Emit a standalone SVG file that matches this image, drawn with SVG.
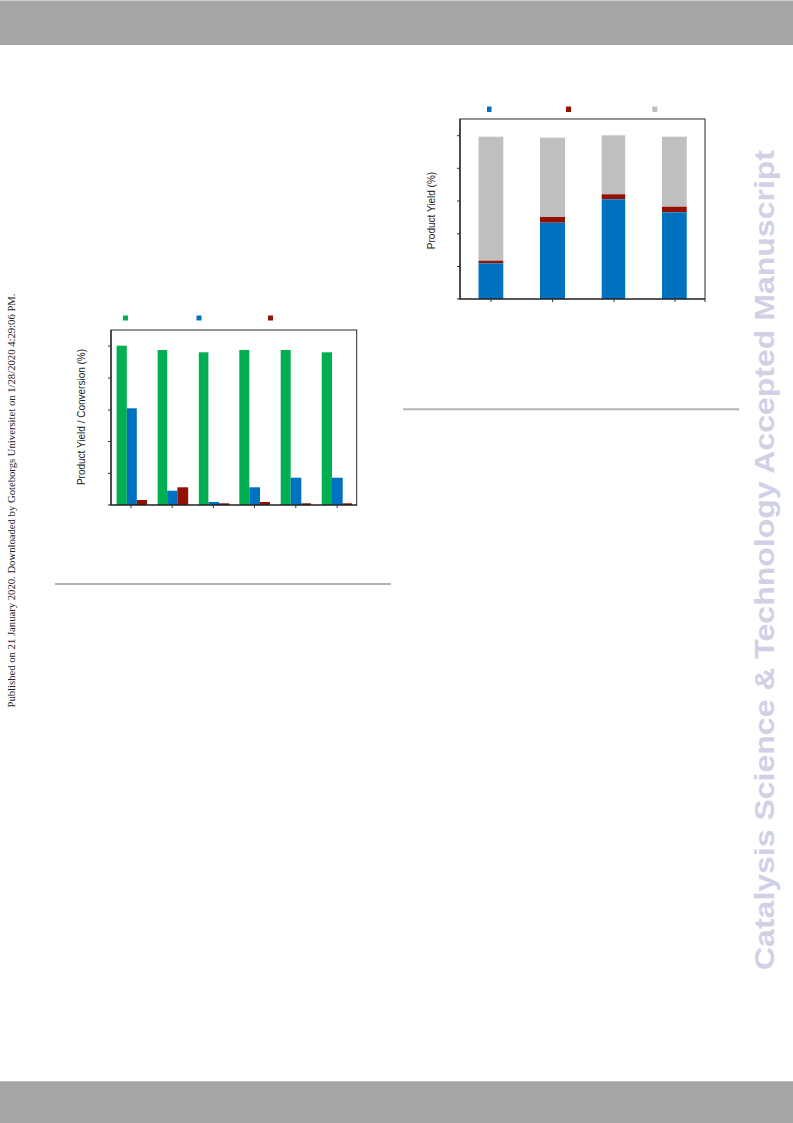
<svg xmlns="http://www.w3.org/2000/svg" width="793" height="1123" viewBox="0 0 793 1123">
<style>
.frame{fill:none;stroke:#2a2a2a;stroke-width:1}
.axis{stroke:#1a1a1a;stroke-width:1.2}
.tick{stroke:#333;stroke-width:1}
.g{fill:#00b050}
.b{fill:#0070c0}
.r{fill:#931100}
.gr{fill:#bfbfbf}
.lab{font-family:"Liberation Sans",Arial,sans-serif;font-size:10px;fill:#222}
.sep{stroke:#b4b4b4;stroke-width:2}
</style>
<rect x="0" y="0" width="793" height="1" fill="#cfcfcf"/>
<rect id="header" x="0" y="1" width="793" height="44" fill="#a6a6a6"/>
<rect id="footer" x="0" y="1081" width="793" height="42" fill="#a6a6a6"/>
<rect x="0" y="1081" width="793" height="1" fill="#bdbdbd"/>

<text id="published" transform="translate(15,500.5) rotate(-90)" text-anchor="middle" font-family="'Liberation Serif','Times New Roman',serif" font-size="10" fill="#222" textLength="414" lengthAdjust="spacingAndGlyphs">Published on 21 January 2020. Downloaded by Goteborgs Universitet on 1/28/2020 4:29:06 PM.</text>

<text id="watermark" transform="translate(774,560) rotate(-90)" text-anchor="middle" font-family="'Liberation Sans',Arial,sans-serif" font-weight="bold" font-size="28" fill="#d0d0e6" textLength="820" lengthAdjust="spacingAndGlyphs">Catalysis Science &amp; Technology Accepted Manuscript</text>

<g id="chart-left">
  <g id="left-legend">
    <rect x="123" y="315.5" width="5" height="5" class="g"/>
    <rect x="196.5" y="315.5" width="5" height="5" class="b"/>
    <rect x="268" y="315.5" width="5" height="5" class="r"/>
  </g>
  <g id="left-bars">
    <rect x="116.6" y="345.7" width="10.2" height="159.3" class="g"/>
    <rect x="126.8" y="408.3" width="10" height="96.7" class="b"/>
    <rect x="136.8" y="500" width="10.2" height="5" class="r"/>

    <rect x="157.6" y="350" width="9.6" height="155" class="g"/>
    <rect x="167.2" y="490.7" width="10.2" height="14.3" class="b"/>
    <rect x="177.4" y="487.3" width="10.8" height="17.7" class="r"/>

    <rect x="198.8" y="352.3" width="9.6" height="152.7" class="g"/>
    <rect x="208.4" y="502" width="10.6" height="3" class="b"/>
    <rect x="219" y="503.3" width="10.3" height="1.7" class="r"/>

    <rect x="239.3" y="350" width="10" height="155" class="g"/>
    <rect x="249.3" y="487.3" width="10.7" height="17.7" class="b"/>
    <rect x="260" y="502" width="10" height="3" class="r"/>

    <rect x="280.7" y="350" width="10" height="155" class="g"/>
    <rect x="290.7" y="477.7" width="10.6" height="27.3" class="b"/>
    <rect x="301.3" y="503.3" width="9.7" height="1.7" class="r"/>

    <rect x="321.7" y="352.3" width="10.3" height="152.7" class="g"/>
    <rect x="332" y="477.7" width="10.7" height="27.3" class="b"/>
    <rect x="342.7" y="503.3" width="9.3" height="1.7" class="r"/>
  </g>
  <g id="left-axes">
    <rect x="111" y="330" width="245.7" height="175" class="frame"/>
    <line x1="111" y1="330" x2="111" y2="505" class="axis"/>
    <line x1="108" y1="505" x2="357" y2="505" class="axis"/>
    <line x1="108" y1="346" x2="111" y2="346" class="tick"/>
    <line x1="108" y1="378" x2="111" y2="378" class="tick"/>
    <line x1="108" y1="410" x2="111" y2="410" class="tick"/>
    <line x1="108" y1="441.5" x2="111" y2="441.5" class="tick"/>
    <line x1="108" y1="473.3" x2="111" y2="473.3" class="tick"/>
    <line x1="131" y1="505" x2="131" y2="508" class="tick"/>
    <line x1="172.2" y1="505" x2="172.2" y2="508" class="tick"/>
    <line x1="213.3" y1="505" x2="213.3" y2="508" class="tick"/>
    <line x1="254.4" y1="505" x2="254.4" y2="508" class="tick"/>
    <line x1="295.8" y1="505" x2="295.8" y2="508" class="tick"/>
    <line x1="337.2" y1="505" x2="337.2" y2="508" class="tick"/>
  </g>
  <text id="left-ylabel" class="lab" transform="translate(85,417) rotate(-90)" text-anchor="middle">Product Yield / Conversion (%)</text>
</g>

<g id="chart-right">
  <g id="right-legend">
    <rect x="487" y="106.5" width="4.5" height="5.5" class="b"/>
    <rect x="566" y="106.5" width="5" height="5.5" class="r"/>
    <rect x="652.3" y="106.5" width="5" height="5.5" class="gr"/>
  </g>
  <g id="right-bars">
    <rect x="478.5" y="136.7" width="24.8" height="124" class="gr"/>
    <rect x="478.5" y="260.7" width="24.8" height="2.6" class="r"/>
    <rect x="478.5" y="263.3" width="24.8" height="35.7" class="b"/>

    <rect x="540" y="137.7" width="25" height="79.3" class="gr"/>
    <rect x="540" y="217" width="25" height="5.7" class="r"/>
    <rect x="540" y="222.7" width="25" height="76.3" class="b"/>

    <rect x="601.7" y="135.3" width="23.5" height="59" class="gr"/>
    <rect x="601.7" y="194.3" width="23.5" height="5" class="r"/>
    <rect x="601.7" y="199.3" width="23.5" height="99.7" class="b"/>

    <rect x="662" y="136.7" width="24.7" height="70" class="gr"/>
    <rect x="662" y="206.7" width="24.7" height="5.6" class="r"/>
    <rect x="662" y="212.3" width="24.7" height="86.7" class="b"/>
  </g>
  <g id="right-axes">
    <rect x="460" y="119" width="245" height="180" class="frame"/>
    <line x1="460" y1="119" x2="460" y2="299" class="axis"/>
    <line x1="457" y1="299" x2="705" y2="299" class="axis"/>
    <line x1="457" y1="135.7" x2="460" y2="135.7" class="tick"/>
    <line x1="457" y1="168.3" x2="460" y2="168.3" class="tick"/>
    <line x1="457" y1="201" x2="460" y2="201" class="tick"/>
    <line x1="457" y1="233.8" x2="460" y2="233.8" class="tick"/>
    <line x1="457" y1="266.5" x2="460" y2="266.5" class="tick"/>
    <line x1="491" y1="299" x2="491" y2="302" class="tick"/>
    <line x1="552.6" y1="299" x2="552.6" y2="302" class="tick"/>
    <line x1="614" y1="299" x2="614" y2="302" class="tick"/>
    <line x1="675" y1="299" x2="675" y2="302" class="tick"/>
    <line x1="705" y1="299" x2="705" y2="302" class="tick"/>
  </g>
  <text id="right-ylabel" class="lab" transform="translate(435,210.5) rotate(-90)" text-anchor="middle">Product Yield (%)</text>
</g>

<g id="separators">
  <line x1="55" y1="584" x2="391" y2="584" class="sep"/>
  <line x1="403" y1="409.3" x2="739" y2="409.3" class="sep"/>
</g>
</svg>
